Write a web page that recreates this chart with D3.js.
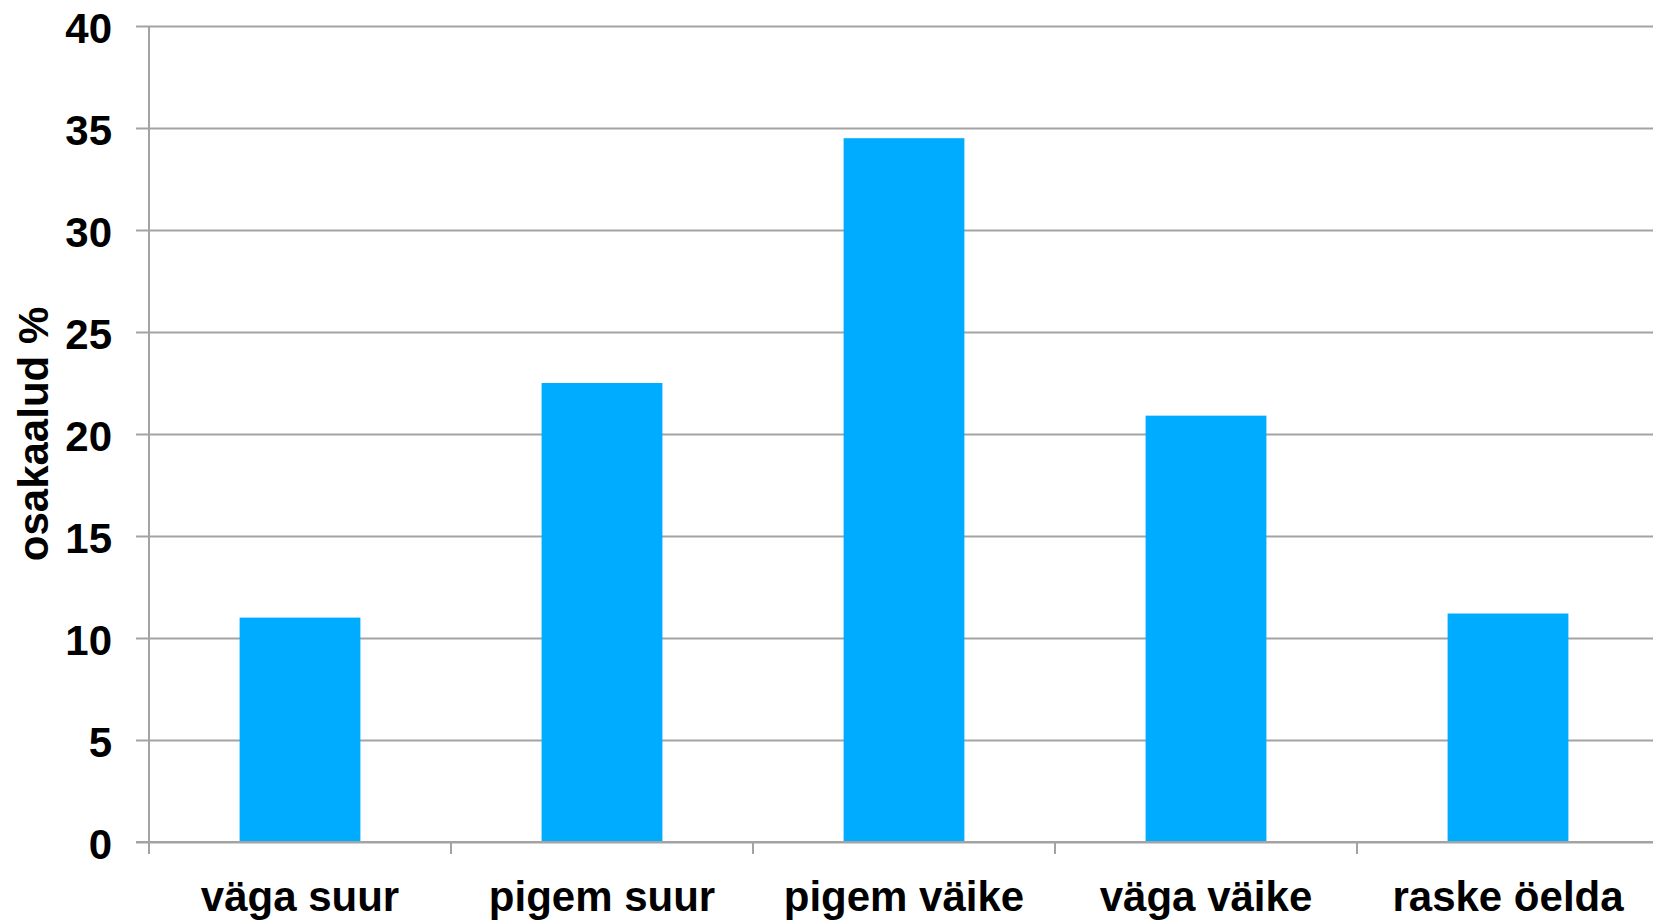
<!DOCTYPE html>
<html>
<head>
<meta charset="utf-8">
<script src="https://cdn.jsdelivr.net/npm/d3@7"></script>
<style>
	body { margin: 0; background: #fff; overflow: hidden; }
	svg { display: block; font-family: 'Liberation Sans', Arial, sans-serif; font-weight: bold; }
</style>
</head>
<body>
<svg id="chart"></svg>
<script>
let categories = ['väga suur', 'pigem suur', 'pigem väike', 'väga väike', 'raske öelda']
let values = [11.0, 22.5, 34.5, 20.9, 11.2]
let yTicks = [0, 5, 10, 15, 20, 25, 30, 35, 40]
let yTitle = 'osakaalud %'

let width = 1653
let height = 920

let svg = d3.select('#chart').attr('width', width).attr('height', height)

let margin = { left: 149, top: 26, bottom: 842 }
// plot runs a bit past the right edge, like the original
let plotRight = 1659

let yScale = d3.scaleLinear()
	.domain([0, 40])
	.range([margin.bottom, margin.top])

let xCat = d3.scaleBand()
	.domain(categories)
	.range([margin.left, plotRight])

let xBar = d3.scaleBand()
	.domain(categories)
	.range([margin.left, plotRight])
	.paddingInner(0.6)
	.paddingOuter(0.3)

// gridlines + y ticks
let axisY = d3.axisLeft(yScale)
	.tickValues(yTicks)
	.tickSize(-(plotRight - margin.left))
	.tickSizeOuter(0)
	.tickPadding(0)

let gY = svg.append('g')
	.attr('transform', `translate(${margin.left},0)`)
	.call(axisY)

gY.select('.domain').remove()
gY.selectAll('.tick line')
	.attr('x1', -13)
	.attr('stroke', '#a3a3a3')
	.attr('stroke-width', 2)
gY.selectAll('.tick text')
	.attr('x', -37)
	.attr('dy', 16)
	.attr('fill', '#000')
	.style('font-size', '42px')
	.style('font-family', "'Liberation Sans', Arial, sans-serif")
	.style('font-weight', 'bold')

// bars
svg.append('g').selectAll('rect')
	.data(values)
	.enter().append('rect')
	.attr('x', (d, i) => xBar(categories[i]))
	.attr('width', xBar.bandwidth())
	.attr('y', d => yScale(d))
	.attr('height', d => yScale(0) - yScale(d))
	.attr('fill', '#00acff')

// vertical axis line
svg.append('line')
	.attr('x1', margin.left).attr('x2', margin.left)
	.attr('y1', margin.top).attr('y2', margin.bottom + 12)
	.attr('stroke', '#a3a3a3')
	.attr('stroke-width', 2)

// bottom axis line
svg.append('line')
	.attr('x1', margin.left - 13).attr('x2', plotRight)
	.attr('y1', yScale(0)).attr('y2', yScale(0))
	.attr('stroke', '#a3a3a3')
	.attr('stroke-width', 2)

// category boundary ticks
svg.append('g').selectAll('line')
	.data(categories.slice(1))
	.enter().append('line')
	.attr('x1', d => xCat(d)).attr('x2', d => xCat(d))
	.attr('y1', yScale(0)).attr('y2', yScale(0) + 12)
	.attr('stroke', '#a3a3a3')
	.attr('stroke-width', 2)

// category labels
svg.append('g').selectAll('text')
	.data(categories)
	.enter().append('text')
	.attr('x', d => xCat(d) + xCat.bandwidth() / 2)
	.attr('y', 911)
	.attr('text-anchor', 'middle')
	.style('font-size', '42px')
	.text(d => d)

// y title
svg.append('text')
	.attr('transform', `translate(48, ${(margin.top + margin.bottom) / 2}) rotate(-90)`)
	.attr('text-anchor', 'middle')
	.style('font-size', '42px')
	.text(yTitle)
</script>
</body>
</html>
